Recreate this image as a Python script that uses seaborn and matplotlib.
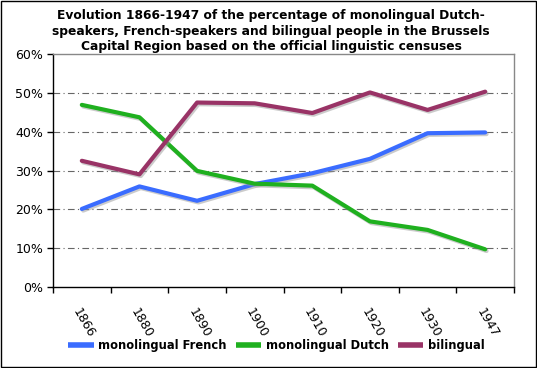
import numpy as np
import pandas as pd
import seaborn as sns
import matplotlib.pyplot as plt
import matplotlib.patheffects as pe
from matplotlib.patches import Rectangle

years = ['1866', '1880', '1890', '1900', '1910', '1920', '1930', '1947']
french = [20.1, 25.9, 22.2, 26.5, 29.3, 33.0, 39.6, 39.8]
dutch = [46.9, 43.7, 29.9, 26.6, 26.1, 16.9, 14.7, 9.7]
bilingual = [32.5, 29.0, 47.5, 47.3, 44.8, 50.1, 45.6, 50.3]

series = ['monolingual French', 'monolingual Dutch', 'bilingual']
colors = ['#3a6cff', '#1fb01f', '#993366']

df = pd.DataFrame({'year': years, 'pos': range(len(years)),
                   series[0]: french, series[1]: dutch, series[2]: bilingual})
long = df.melt(id_vars=['year', 'pos'], value_vars=series, var_name='group', value_name='pct')

sns.set_style('white')
plt.rcParams['font.family'] = ['DejaVu Sans']
plt.rcParams['text.color'] = 'black'
plt.rcParams['xtick.color'] = 'black'
plt.rcParams['ytick.color'] = 'black'

fig = plt.figure(figsize=(5.37, 3.68), dpi=100)
ax = fig.add_axes([53/537, 1-287/368, 461/537, 233/368])

sns.lineplot(data=long, x='pos', y='pct', hue='group', palette=colors, hue_order=series,
             linewidth=3.0, ax=ax, legend=False,
             path_effects=[pe.SimpleLineShadow(offset=(1.0, -1.2), shadow_color='#999999', alpha=0.5), pe.Normal()])

ax.set_xlim(-0.5, len(years) - 0.5)
ax.set_ylim(0, 60)
ax.set_yticks(np.arange(0, 61, 10))
ax.set_yticklabels([f'{v}%' for v in range(0, 61, 10)], fontsize=9)
ax.set_xticks(range(len(years)))
ax.set_xticklabels(years, rotation=-60, ha='left', va='top', rotation_mode='anchor', fontsize=9)
ax.set_xticks(np.arange(-0.5, len(years), 1), minor=True)
ax.tick_params(axis='x', which='major', length=0, pad=14)
ax.tick_params(axis='x', which='minor', length=4, width=1, direction='out', bottom=True)
ax.tick_params(axis='y', length=4, width=1, direction='out', left=True, pad=3)
ax.set_xlabel('')
ax.set_ylabel('')

for v in range(10, 60, 10):
    ax.axhline(v, color='#666666', lw=0.8, ls=(0, (6, 3, 1, 3)), zorder=0)

for side in ['left', 'bottom']:
    ax.spines[side].set_color('black')
    ax.spines[side].set_linewidth(1)
for side in ['top', 'right']:
    ax.spines[side].set_color('#888888')
    ax.spines[side].set_linewidth(1)

fig.text(0.505, 0.975, 'Evolution 1866-1947 of the percentage of monolingual Dutch-\n'
         'speakers, French-speakers and bilingual people in the Brussels\n'
         'Capital Region based on the official linguistic censuses',
         ha='center', va='top', fontsize=8.8, fontweight='bold', linespacing=1.25)

handles = [plt.Line2D([], [], color=c, lw=4, solid_capstyle='butt') for c in colors]
fig.legend(handles, series, loc='center', bbox_to_anchor=(0.515, 0.06), ncol=3, frameon=False,
           prop={'weight': 'bold', 'size': 8.3}, handlelength=2.2, handletextpad=0.4, columnspacing=0.8)

fig.patches.append(Rectangle((0.002, 0.003), 0.996, 0.994, transform=fig.transFigure,
                             fill=False, edgecolor='black', lw=1))

fig.savefig('out.png', dpi=100)
